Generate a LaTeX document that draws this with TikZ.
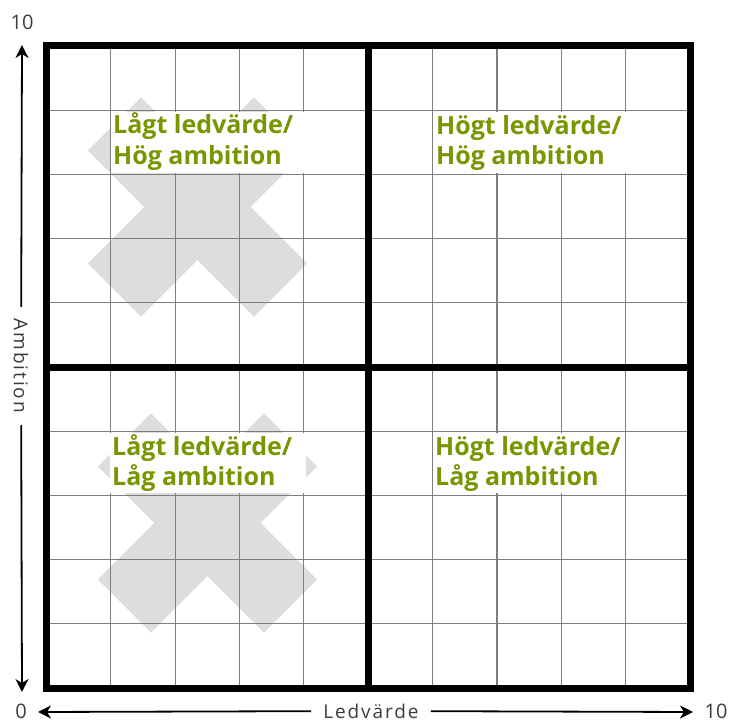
\documentclass[tikz,border=0pt]{standalone}
\usepackage{fontspec}
\setmainfont{Open Sans}
\usetikzlibrary{arrows.meta}
\definecolor{labgreen}{RGB}{120,150,0}
\definecolor{xgray}{RGB}{221,221,221}
\definecolor{gridgray}{RGB}{125,125,125}
\definecolor{axtext}{RGB}{60,60,60}
\tikzset{
  lab/.style={text=labgreen, font=\bfseries\fontsize{25}{30}\selectfont, inner sep=0pt, anchor=base west},
  thingrid/.style={draw=gridgray, line width=1.1pt},
  thickline/.style={draw=black, line width=7pt},
  axarrow/.style={draw=black, line width=1.8pt, -{Stealth[length=13pt,width=13pt,inset=4pt]}},
  axnum/.style={text=axtext, font=\fontsize{20}{24}\selectfont, inner sep=0pt},
  axlab/.style={text=axtext, font=\fontsize{19}{22}\selectfont\addfontfeature{LetterSpace=10}, fill=white, inner xsep=12pt, inner ysep=2pt},
  whitebox/.style={fill=white}
}
\begin{document}
\begin{tikzpicture}[x=1pt,y=-1pt]
\useasboundingbox (0,0) rectangle (734,722);
% grey crosses
\foreach \cx/\cy in {197.5/207, 207.5/523}{
  \fill[xgray, rotate around={45:(\cx,\cy)}] (\cx-117.5,\cy-37.5) rectangle (\cx+117.5,\cy+37.5);
  \fill[xgray, rotate around={-45:(\cx,\cy)}] (\cx-117.5,\cy-37.5) rectangle (\cx+117.5,\cy+37.5);
}
% thin grid
\foreach \i in {1,...,9}{
  \draw[thingrid] ({46.5+64.35*\i},46) -- ({46.5+64.35*\i},688);
  \draw[thingrid] (46.5,{46+64.2*\i}) -- (690,{46+64.2*\i});
}
% white boxes behind labels
\fill[whitebox] (111,112) rectangle (307,173);
\fill[whitebox] (433,112) rectangle (638,173);
\fill[whitebox] (110,433) rectangle (306,493);
\fill[whitebox] (433,433) rectangle (625,493);
% labels
\node[lab] (ula) at (113,134) {Lågt ledvärde/};
\node[lab] (ulb) at (113,165) {Hög ambition};
\node[lab] (ura) at (436,135) {Högt ledvärde/};
\node[lab] (urb) at (436,165) {Hög ambition};
\node[lab] (lla) at (112,455) {Lågt ledvärde/};
\node[lab] (llb) at (112,485) {Låg ambition};
\node[lab] (lra) at (435,455) {Högt ledvärde/};
\node[lab] (lrb) at (435,485) {Låg ambition};
% thick lines
\draw[thickline] (46.5,46) rectangle (690,688);
\draw[thickline] (368.25,46) -- (368.25,688);
\draw[thickline] (46.5,367) -- (690,367);
% axes
\coordinate (ytop) at (22,45);
\coordinate (ybot) at (22,692);
\coordinate (xleft) at (38,712);
\coordinate (xright) at (693,712);
\node[axlab, rotate=-90] (amb) at (21,366) {Ambition};
\node[axlab] (led) at (371,711) {Ledvärde};
\draw[axarrow] (amb) -- (ytop);
\draw[axarrow] (amb) -- (ybot);
\draw[axarrow] (led) -- (xleft);
\draw[axarrow] (led) -- (xright);
\node[axnum] (n10y) at (22,22) {10};
\node[axnum] (n0) at (21,711) {0};
\node[axnum] (n10x) at (716,711) {10};
\end{tikzpicture}
\end{document}
